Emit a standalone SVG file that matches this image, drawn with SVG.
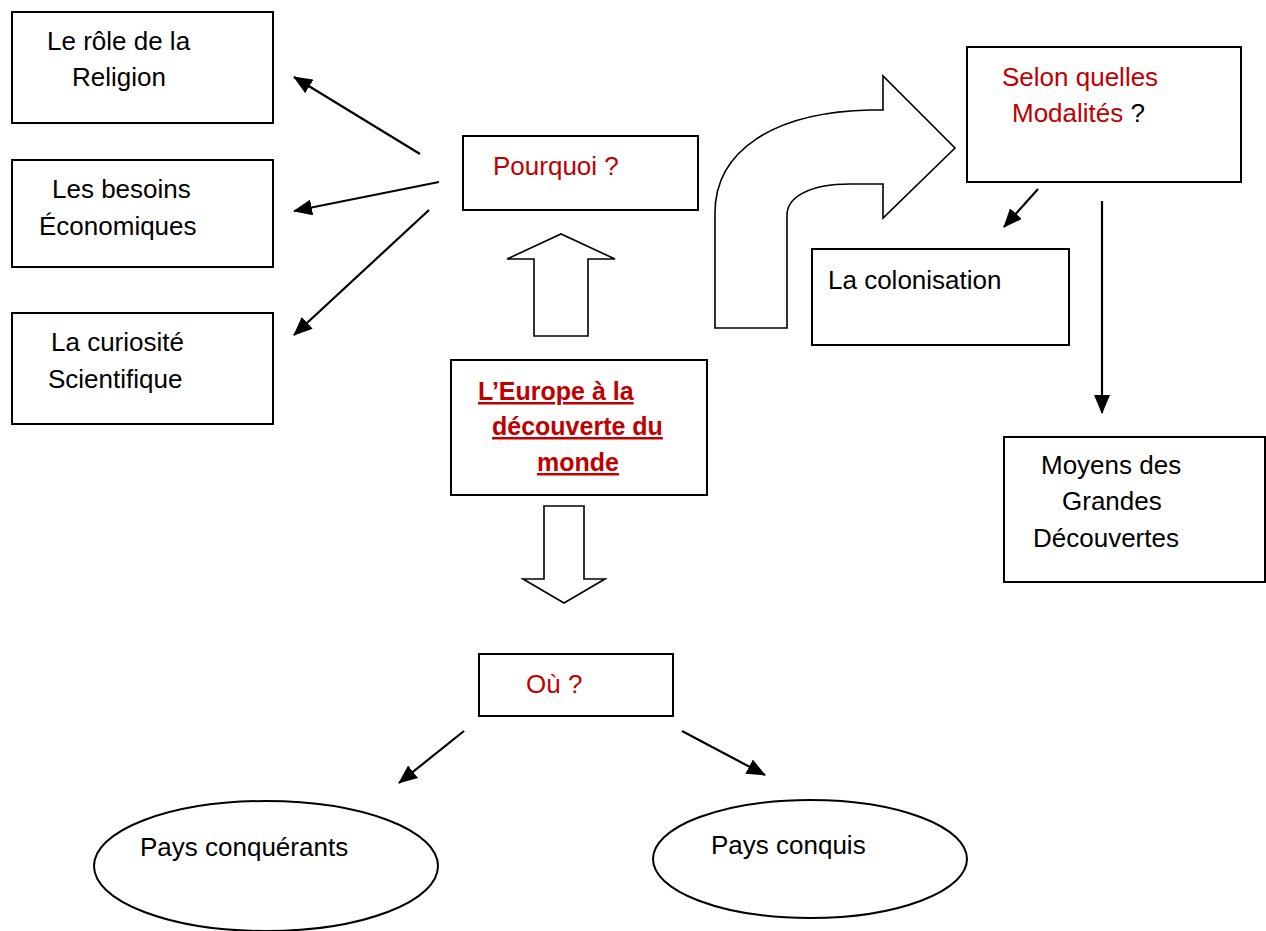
<svg xmlns="http://www.w3.org/2000/svg" width="1266" height="931" viewBox="0 0 1266 931">
<style>
.box{fill:#fff;stroke:#000;stroke-width:2}
.shape{fill:#fff;stroke:#000;stroke-width:1.6;stroke-linejoin:miter}
.t{font-family:"Liberation Sans",Arial,sans-serif;font-size:26px;fill:#000}
.r{fill:#C00000}
.title{font-family:"Liberation Sans",Arial,sans-serif;font-size:25px;font-weight:bold;fill:#C00000;text-decoration:underline}
.conn{stroke:#000;stroke-width:2.2;fill:none;marker-end:url(#ah)}
</style>
<defs>
<marker id="ah" markerUnits="userSpaceOnUse" markerWidth="20" markerHeight="16" refX="18" refY="8" orient="auto">
<path d="M0,0 L19,8 L0,16 Z" fill="#000"/>
</marker>
</defs>
<rect width="1266" height="931" fill="#fff"/>

<g id="religion">
<rect class="box" x="12" y="12" width="261" height="111"/>
<text class="t" x="47" y="50">Le rôle de la</text>
<text class="t" x="72" y="86">Religion</text>
</g>
<g id="besoins">
<rect class="box" x="12" y="160" width="261" height="107"/>
<text class="t" x="52" y="198">Les besoins</text>
<text class="t" x="39" y="235">Économiques</text>
</g>
<g id="curiosite">
<rect class="box" x="12" y="313" width="261" height="111"/>
<text class="t" x="51" y="351">La curiosité</text>
<text class="t" x="48" y="388">Scientifique</text>
</g>
<g id="pourquoi">
<rect class="box" x="463" y="136" width="235" height="74"/>
<text class="t r" x="493" y="175">Pourquoi ?</text>
</g>
<g id="up-arrow">
<path class="shape" d="M534,336 L534,259 L507,259 L561,234 L615,259 L588,259 L588,336 Z"/>
</g>
<g id="europe">
<rect class="box" x="451" y="360" width="256" height="135"/>
<text class="title" x="478" y="400">L’Europe à la</text>
<text class="title" x="492" y="435">découverte du</text>
<text class="title" x="537" y="471">monde</text>
</g>
<g id="down-arrow">
<path class="shape" d="M544,506 L584,506 L584,579 L605,579 L564,603 L523,579 L544,579 Z"/>
</g>
<g id="bent-arrow">
<path class="shape" d="M715,328 L715,213 C715,150 775,112 870,110 L883,110 L883,76 L955,148 L883,218 L883,184 L850,184 C808,184 787,198 787,215 L787,328 Z"/>
</g>
<g id="modalites">
<rect class="box" x="967" y="47" width="274" height="135"/>
<text class="t r" x="1002" y="86">Selon quelles</text>
<text class="t" x="1012" y="122"><tspan class="r">Modalités</tspan> ?</text>
</g>
<g id="colonisation">
<rect class="box" x="812" y="249" width="257" height="96"/>
<text class="t" x="828" y="289">La colonisation</text>
</g>
<g id="moyens">
<rect class="box" x="1004" y="437" width="261" height="145"/>
<text class="t" x="1041" y="474">Moyens des</text>
<text class="t" x="1062" y="510">Grandes</text>
<text class="t" x="1033" y="547">Découvertes</text>
</g>
<g id="ou">
<rect class="box" x="479" y="654" width="194" height="62"/>
<text class="t r" x="526" y="693">Où ?</text>
</g>
<g id="conquerants">
<ellipse class="box" cx="266" cy="866" rx="172" ry="65"/>
<text class="t" x="140" y="856">Pays conquérants</text>
</g>
<g id="conquis">
<ellipse class="box" cx="810" cy="859" rx="157" ry="59"/>
<text class="t" x="711" y="854">Pays conquis</text>
</g>

<g id="connectors">
<line class="conn" x1="420" y1="154" x2="294" y2="77"/>
<line class="conn" x1="439" y1="182" x2="294" y2="211"/>
<line class="conn" x1="429" y1="210" x2="294" y2="335"/>
<line class="conn" x1="1038" y1="189" x2="1004" y2="227"/>
<line class="conn" x1="1102" y1="201" x2="1102" y2="413"/>
<line class="conn" x1="464" y1="731" x2="399" y2="783"/>
<line class="conn" x1="682" y1="731" x2="765" y2="775"/>
</g>
</svg>
